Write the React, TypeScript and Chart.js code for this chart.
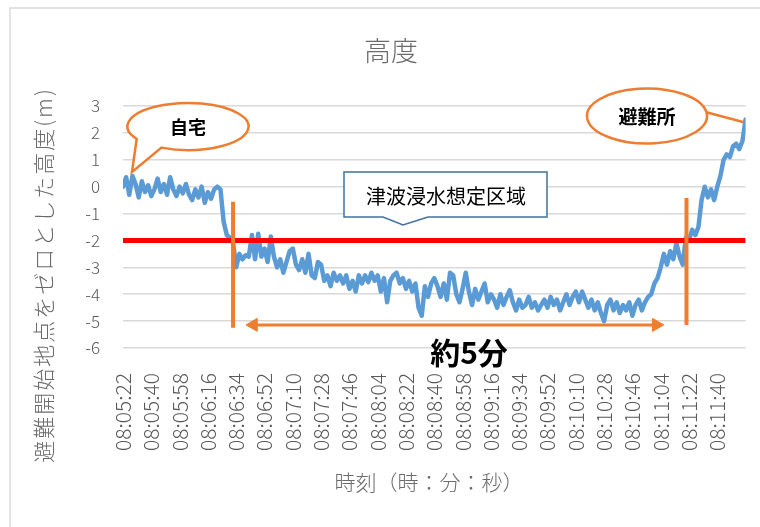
import { useEffect, useRef } from "react";
import { Chart, registerables } from "chart.js";

Chart.register(...registerables);

// x-axis tick labels (one every 18 seconds starting at 08:05:22)
const tickLabels = [
  "08:05:22", "08:05:40", "08:05:58", "08:06:16", "08:06:34", "08:06:52",
  "08:07:10", "08:07:28", "08:07:46", "08:08:04", "08:08:22", "08:08:40",
  "08:08:58", "08:09:16", "08:09:34", "08:09:52", "08:10:10", "08:10:28",
  "08:10:46", "08:11:04", "08:11:22", "08:11:40",
];
const tickStepSec = 18;
const xMaxSec = 396;
const sampleStepSec = 2;

// altitude (m) relative to the evacuation start point, one value every 2 s from 08:05:22
const altitude = [
  0.0, 0.35, -0.3, 0.4, 0.1, -0.4, 0.2, -0.2, 0.05, -0.35,
  -0.1, 0.3, -0.2, 0.1, -0.3, 0.35, -0.1, -0.35, 0.0, -0.25,
  0.1, -0.3, -0.5, -0.1, -0.4, 0.0, -0.6, -0.2, -0.45, -0.1,
  0.0, -0.1, -1.3, -1.8, -1.9, -2.1, -3.0, -2.5, -2.7, -2.55,
  -2.6, -1.8, -2.7, -1.75, -2.6, -2.3, -2.8, -1.85, -2.6, -3.0,
  -2.7, -3.2, -2.8, -2.4, -2.3, -2.9, -3.1, -2.7, -3.2, -2.5,
  -3.3, -3.4, -2.8, -2.9, -3.5, -3.3, -3.7, -3.2, -3.5, -3.3,
  -3.6, -3.3, -3.8, -3.5, -3.9, -3.3, -3.6, -3.3, -3.55, -3.2,
  -3.5, -3.3, -3.9, -3.4, -4.3, -3.5, -3.3, -3.2, -3.6, -3.4,
  -3.8, -3.5, -3.9, -3.6, -4.5, -4.8, -3.7, -4.1, -3.6, -3.4,
  -3.7, -4.1, -3.6, -4.2, -3.2, -3.3, -4.0, -4.3, -3.8, -3.2,
  -3.9, -4.4, -3.8, -4.2, -3.9, -3.6, -4.3, -4.0, -4.2, -4.5,
  -4.0, -4.4, -4.1, -3.85, -4.3, -4.6, -4.2, -4.5, -4.4, -4.1,
  -4.5, -4.3, -4.6, -4.4, -4.2, -4.5, -4.1, -4.4, -4.2, -4.6,
  -4.3, -4.0, -4.4, -4.1, -3.9, -4.3, -3.9, -4.2, -4.5, -4.2,
  -4.6, -4.3, -4.7, -5.0, -4.4, -4.2, -4.6, -4.3, -4.7, -4.4,
  -4.6, -4.3, -4.8, -4.4, -4.2, -4.6, -4.3, -4.1, -4.0, -3.6,
  -3.4, -3.0, -2.5, -2.9, -2.4, -2.7, -2.1, -2.6, -2.9, -1.9,
  -2.0, -1.6, -1.8, -1.5, -0.5, 0.0, -0.4, -0.1, -0.5, 0.0,
  0.4, 1.0, 1.2, 1.1, 1.5, 1.6, 1.4, 1.7, 2.5,
];

// assumed tsunami inundation level (m)
const inundationLevel = -2;
// entry / exit markers (seconds, top, bottom)
const entryMarker = [70, -0.56, -5.25];
const exitMarker = [358.4, -0.42, -5.14];
// duration arrow (start s, end s, level)
const durationArrow = [83, 339.2, -5.14];

const yMin = -6;
const yMax = 3;

const FONT = "'Noto Sans CJK JP', 'Noto Sans', sans-serif";
const ORANGE = "#ED7D31";

const annotationPlugin = {
  id: "annotations",
  afterDraw(chart: any) {
    const ctx: CanvasRenderingContext2D = chart.ctx;
    ctx.save();

    // outer chart border
    ctx.strokeStyle = "#d9d9d9";
    ctx.lineWidth = 1.5;
    ctx.strokeRect(10, 8, 780, 540);

    // title
    ctx.fillStyle = "#6b6b6b";
    ctx.textAlign = "center";
    ctx.textBaseline = "middle";
    ctx.font = `300 27px ${FONT}`;
    ctx.fillText("高度", 391, 51);

    // x axis title
    ctx.font = `300 21px ${FONT}`;
    ctx.fillText("時刻（時：分：秒）", 429, 482);

    // y axis title
    ctx.save();
    ctx.translate(44, 275);
    ctx.rotate(-Math.PI / 2);
    ctx.font = `300 22px ${FONT}`;
    try { (ctx as any).letterSpacing = "2px"; } catch (e) {}
    ctx.fillText("避難開始地点をゼロとした高度(m)", 0, 0);
    ctx.restore();

    // callout helper
    const callout = (cx: number, cy: number, rx: number, ry: number, a1: number, a2: number, tx: number, ty: number) => {
      const r1 = (a1 * Math.PI) / 180;
      const r2 = (a2 * Math.PI) / 180;
      ctx.beginPath();
      ctx.ellipse(cx, cy, rx, ry, 0, r2, r1 + Math.PI * 2, false);
      ctx.lineTo(tx, ty);
      ctx.closePath();
      ctx.fillStyle = "#ffffff";
      ctx.fill();
      ctx.strokeStyle = ORANGE;
      ctx.lineWidth = 2.5;
      ctx.lineJoin = "miter";
      ctx.stroke();
    };

    callout(188, 126.5, 60.5, 23.5, 116, 148, 132, 172);
    ctx.fillStyle = "#000000";
    ctx.font = `bold 18px ${FONT}`;
    ctx.textAlign = "center";
    ctx.textBaseline = "middle";
    ctx.fillText("自宅", 188, 127);

    callout(647, 116, 60, 27.5, 32, -8, 743, 122);
    ctx.fillStyle = "#000000";
    ctx.font = `bold 19px ${FONT}`;
    ctx.fillText("避難所", 647, 117);

    // inundation area label box
    ctx.beginPath();
    ctx.moveTo(344, 172);
    ctx.lineTo(547, 172);
    ctx.lineTo(547, 217);
    ctx.lineTo(428, 217);
    ctx.lineTo(403, 225);
    ctx.lineTo(383, 217);
    ctx.lineTo(344, 217);
    ctx.closePath();
    ctx.fillStyle = "#ffffff";
    ctx.fill();
    ctx.strokeStyle = "#41719C";
    ctx.lineWidth = 1.5;
    ctx.stroke();
    ctx.fillStyle = "#000000";
    ctx.font = `20px ${FONT}`;
    ctx.fillText("津波浸水想定区域", 446, 196);

    // duration label
    ctx.font = `bold 30px ${FONT}`;
    ctx.fillText("約5分", 469, 353);

    ctx.restore();
  },
};

export default function App() {
  const canvasRef = useRef<HTMLCanvasElement | null>(null);

  useEffect(() => {
    if (!canvasRef.current) return;
    const series = altitude.map((v, i) => ({ x: i * sampleStepSec, y: v }));

    const chart = new Chart(canvasRef.current, {
      type: "line",
      data: {
        datasets: [
          {
            data: [
              { x: entryMarker[0], y: entryMarker[1] },
              { x: entryMarker[0], y: entryMarker[2] },
            ],
            borderColor: ORANGE,
            borderWidth: 4,
            pointRadius: 0,
            order: 1,
          },
          {
            data: [
              { x: exitMarker[0], y: exitMarker[1] },
              { x: exitMarker[0], y: exitMarker[2] },
            ],
            borderColor: ORANGE,
            borderWidth: 4,
            pointRadius: 0,
            order: 1,
          },
          {
            data: [
              { x: durationArrow[0], y: durationArrow[2] },
              { x: durationArrow[1], y: durationArrow[2] },
            ],
            borderColor: ORANGE,
            borderWidth: 3,
            pointStyle: "triangle",
            pointRadius: 7.5,
            pointRotation: [270, 90],
            pointBackgroundColor: ORANGE,
            pointBorderColor: ORANGE,
            pointBorderWidth: 1,
            order: 1,
          },
          {
            data: [
              { x: 0, y: inundationLevel },
              { x: xMaxSec, y: inundationLevel },
            ],
            borderColor: "#FF0000",
            borderWidth: 5,
            pointRadius: 0,
            order: 2,
          },
          {
            data: series,
            borderColor: "#5B9BD5",
            borderWidth: 4.5,
            borderJoinStyle: "round",
            borderCapStyle: "round",
            pointRadius: 0,
            tension: 0,
            order: 3,
          },
        ],
      },
      options: {
        responsive: false,
        animation: false,
        events: [],
        layout: { padding: { top: 106, right: 11, left: 0, bottom: 0 } },
        plugins: {
          legend: { display: false },
          title: { display: false },
          tooltip: { enabled: false },
        },
        scales: {
          x: {
            type: "linear",
            min: 0,
            max: xMaxSec,
            afterBuildTicks: (scale: any) => {
              scale.ticks = tickLabels.map((_, i) => ({ value: i * tickStepSec }));
            },
            afterFit: (scale: any) => {
              scale.height = 179;
            },
            grid: { display: false },
            border: { display: false },
            ticks: {
              autoSkip: false,
              maxRotation: 90,
              minRotation: 90,
              padding: 17,
              color: "#595959",
              font: { family: FONT, size: 21, weight: "300" as any },
              callback: (value: any) => tickLabels[Math.round(Number(value) / tickStepSec)] ?? "",
            },
          },
          y: {
            min: yMin,
            max: yMax,
            afterFit: (scale: any) => {
              scale.width = 123;
            },
            grid: { color: "#d9d9d9", lineWidth: 1.5, drawTicks: false },
            border: { display: false },
            ticks: {
              stepSize: 1,
              padding: 23,
              color: "#595959",
              font: { family: FONT, size: 17, weight: "300" as any },
            },
          },
        },
      },
      plugins: [annotationPlugin],
    });

    return () => chart.destroy();
  }, []);

  return (
    <div style={{ position: "fixed", left: 0, top: 0, width: 760, height: 527, background: "#fff" }}>
      <canvas ref={canvasRef} width={760} height={527} style={{ display: "block", width: 760, height: 527 }} />
    </div>
  );
}
